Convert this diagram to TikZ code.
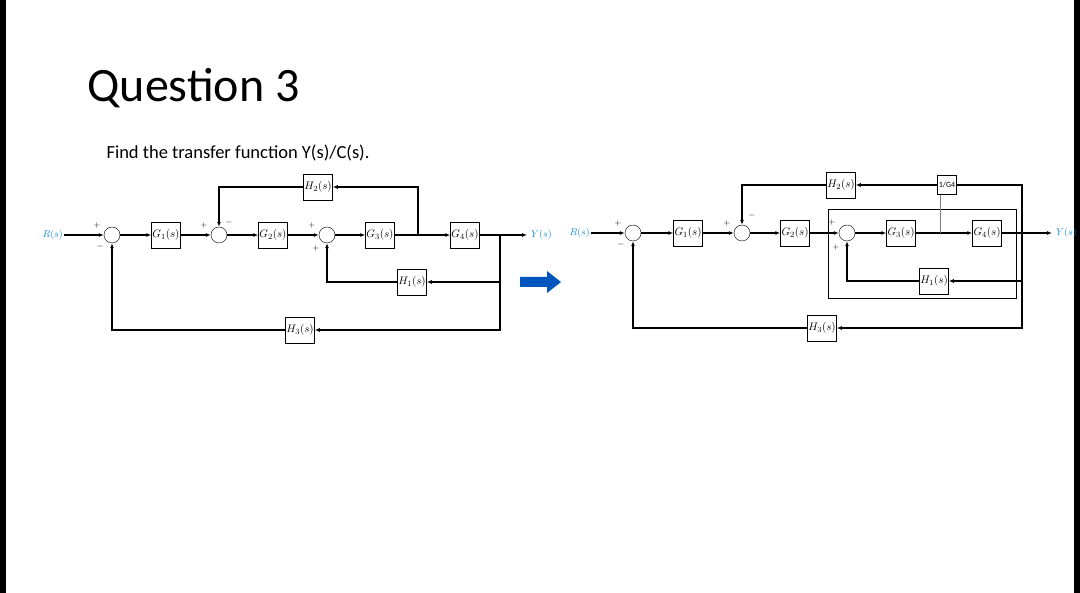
\documentclass[tikz,border=0pt]{standalone}
\usepackage{fontspec}
\newfontfamily\carl{Carlito}
\usetikzlibrary{arrows.meta}
\begin{document}
\begin{tikzpicture}[x=1pt,y=-1pt,
  blk/.style={draw,line width=0.5pt,minimum width=29pt,minimum height=26pt,inner sep=0pt,font=\fontsize{11}{11}\selectfont},
  sm/.style={draw,circle,minimum size=16pt,inner sep=0pt,line width=0.4pt},
  sig/.style={line width=1.1pt,-{Latex[length=5pt,width=4pt]}},
  ln/.style={line width=1.1pt},
  lab/.style={font=\fontsize{10}{10}\selectfont,text=cyan!70!blue,inner sep=1pt},
  pm/.style={font=\fontsize{8}{8}\selectfont,inner sep=0pt}]
\useasboundingbox (0,0) rectangle (1080,593);
\fill[black] (0,0) rectangle (6,593);
\fill[black] (1074,0) rectangle (1080,593);
\node[anchor=west,font=\carl\fontsize{48}{48}\selectfont] (t) at (84,88) {Question 3};
\node[anchor=west,font=\carl\fontsize{18.5}{18.5}\selectfont] (t2) at (103,153) {Find the transfer function Y(s)/C(s).};
% ---- left diagram ----
\node[lab,anchor=east] (R) at (64,235) {$R(s)$};
\node[sm] (s1) at (112,235) {};
\node[blk] (g1) at (166,235) {$G_1(s)$};
\node[sm] (s2) at (219,235) {};
\node[blk] (g2) at (273,235) {$G_2(s)$};
\node[sm] (s3) at (327,235) {};
\node[blk] (g3) at (380,235) {$G_3(s)$};
\coordinate (b1) at (418,235);
\node[blk] (g4) at (465,235) {$G_4(s)$};
\coordinate (b2) at (500,235);
\coordinate (yend) at (527,235);
\node[lab,anchor=west] (Y) at (530,235) {$Y(s)$};
\node[blk] (h2) at (318,187) {$H_2(s)$};
\node[blk] (h1) at (412,282) {$H_1(s)$};
\node[blk] (h3) at (300,330) {$H_3(s)$};
\draw[sig] (R) -- (s1);
\draw[sig] (s1) -- (g1);
\draw[sig] (g1) -- (s2);
\draw[sig] (s2) -- (g2);
\draw[sig] (g2) -- (s3);
\draw[sig] (s3) -- (g3);
\draw[ln] (g3) -- (b1);
\draw[sig] (b1) -- (g4);
\draw[sig] (g4) -- (yend);
\draw[sig] (b1) |- (h2);
\draw[sig] (h2) -| (s2);
\draw[sig] (b2) |- (h1);
\draw[sig] (h1) -| (s3);
\draw[sig] (b2) |- (h3);
\draw[sig] (h3) -| (s1);
\node[pm] at (97,226) {+};\node[pm] at (100,247) {$-$};
\node[pm] at (204,226) {+};\node[pm] at (229,223) {$-$};
\node[pm] at (312,226) {+};\node[pm] at (316,249) {+};
% blue arrow
\fill[blue!55!cyan!75!black] (520,277) -- (547,277) -- (547,271) -- (561,282) -- (547,293) -- (547,287) -- (520,287) -- cycle;
% ---- right diagram ----
\node[lab,anchor=east] (R2) at (591,233) {$R(s)$};
\node[sm] (r1) at (633,233) {};
\node[blk] (k1) at (688,233) {$G_1(s)$};
\node[sm] (r2) at (742,233) {};
\node[blk] (k2) at (795,233) {$G_2(s)$};
\node[sm] (r3) at (847,233) {};
\node[blk] (k3) at (901,233) {$G_3(s)$};
\coordinate (c1) at (940,233);
\node[blk] (k4) at (987,233) {$G_4(s)$};
\coordinate (c2) at (1022,233);
\coordinate (y2end) at (1052,233);
\node[lab,anchor=west] (Y2) at (1055,233) {$Y(s)$};
\node[blk] (j2) at (841,185) {$H_2(s)$};
\node[draw,line width=0.5pt,minimum width=19pt,minimum height=19pt,inner sep=0pt,font=\carl\fontsize{8}{8}\selectfont] (ig) at (947,185) {1/G4};
\node[blk] (j1) at (934,281) {$H_1(s)$};
\node[blk] (j3) at (822,328) {$H_3(s)$};
\draw[line width=0.6pt] (828,209) rectangle (1016,298);
\draw[sig] (R2) -- (r1);
\draw[sig] (r1) -- (k1);
\draw[sig] (k1) -- (r2);
\draw[sig] (r2) -- (k2);
\draw[sig] (k2) -- (r3);
\draw[sig] (r3) -- (k3);
\draw[ln] (k3) -- (c1);
\draw[sig] (c1) -- (k4);
\draw[sig] (k4) -- (y2end);
\coordinate (top) at (1022,185);
\draw[ln] (c2) -- (top) -- (ig);
\draw[line width=0.3pt,gray] (c1) -- (c1|-ig.south);
\draw[sig] (ig) -- (j2);
\draw[sig] (j2) -| (r2);
\draw[sig] (c2) |- (j1);
\draw[sig] (j1) -| (r3);
\draw[sig] (c2) |- (j3);
\draw[sig] (j3) -| (r1);
\node[pm] at (618,224) {+};\node[pm] at (621,245) {$-$};
\node[pm] at (727,224) {+};\node[pm] at (752,216) {$-$};
\node[pm] at (832,223) {+};\node[pm] at (836,248) {+};
\end{tikzpicture}
\end{document}
